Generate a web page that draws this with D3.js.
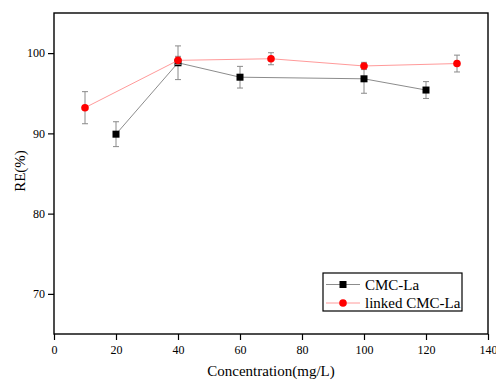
<!DOCTYPE html>
<html>
<head>
<meta charset="utf-8">
<title>RE vs Concentration</title>
<style>
  body { margin: 0; background: #fff; }
  svg { display: block; font-family: 'Liberation Serif', 'Times New Roman', serif; }
  .tick text { font-family: 'Liberation Serif', 'Times New Roman', serif; font-size: 12px; }
</style>
</head>
<body>
<div id="chart"></div>
<script src="https://d3js.org/d3.v7.min.js"></script>
<script>

// data
var cmcX   = [20, 40, 60, 100, 120];
var cmcY   = [89.9, 98.8, 97.0, 96.8, 95.4];
var cmcErr = [1.55, 2.1, 1.35, 1.8, 1.05];

var linkX   = [10, 40, 70, 100, 130];
var linkY   = [93.2, 99.1, 99.3, 98.4, 98.7];
var linkErr = [2.0, 0.5, 0.75, 0.45, 1.05];

var xTicks = [0, 20, 40, 60, 80, 100, 120, 140];
var yTicks = [70, 80, 90, 100];
var seriesNames = ["CMC-La", "linked CMC-La"];

var W = 496, H = 381;
var margin = {top: 13, right: 8, bottom: 47, left: 54},
    width  = W - margin.left - margin.right,
    height = H - margin.top - margin.bottom;

var svg = d3.select("#chart").append("svg")
    .attr("width", W)
    .attr("height", H);

var g = svg.append("g")
    .attr("transform", "translate(" + margin.left + "," + margin.top + ")");

var x = d3.scaleLinear().domain([0, 140]).range([0, width]);
var y = d3.scaleLinear().domain([65, 105]).range([height, 0]);

// axes (major + minor)
var xAxis = g.append("g").attr("transform", "translate(0," + height + ")");
xAxis.call(d3.axisBottom(x).tickValues(d3.range(10, 140, 20)).tickSize(3).tickFormat(""));
xAxis.call(d3.axisBottom(x).tickValues(xTicks).tickSize(6).tickPadding(5));

var yAxis = g.append("g");
yAxis.call(d3.axisLeft(y).tickValues([75, 85, 95]).tickSize(3).tickFormat(""));
yAxis.call(d3.axisLeft(y).tickValues(yTicks).tickSize(6).tickPadding(3));

[xAxis, yAxis].forEach(function(a){
    a.attr("font-family", "Liberation Serif").attr("font-size", 12);
});
g.selectAll(".domain").remove();
g.selectAll(".tick line").attr("stroke", "#000").attr("stroke-width", 1.2);
g.selectAll(".tick text").attr("fill", "#000");

// frame
g.append("rect")
    .attr("x", 0).attr("y", 0)
    .attr("width", width).attr("height", height)
    .attr("fill", "none")
    .attr("stroke", "#000")
    .attr("stroke-width", 1.4);

// axis titles
svg.append("text")
    .attr("x", margin.left + width / 2)
    .attr("y", 376)
    .attr("text-anchor", "middle")
    .style("font-size", "15px")
    .text("Concentration(mg/L)");

svg.append("text")
    .attr("transform", "translate(25,171) rotate(-90)")
    .attr("text-anchor", "middle")
    .style("font-size", "15px")
    .text("RE(%)");

function drawSeries(xs, ys, errs, lineColor, markColor, shape) {
    var pts = xs.map(function(d, i){ return {x: d, y: ys[i], e: errs[i]}; });

    g.append("path")
        .datum(pts)
        .attr("fill", "none")
        .attr("stroke", lineColor)
        .attr("stroke-width", 1)
        .attr("d", d3.line().x(function(d){ return x(d.x); }).y(function(d){ return y(d.y); }));

    var eb = g.append("g").attr("stroke", "#8a8a8a").attr("stroke-width", 1);
    pts.forEach(function(d){
        var cx = x(d.x);
        eb.append("line").attr("x1", cx).attr("x2", cx).attr("y1", y(d.y + d.e)).attr("y2", y(d.y - d.e));
        eb.append("line").attr("x1", cx - 3).attr("x2", cx + 3).attr("y1", y(d.y + d.e)).attr("y2", y(d.y + d.e));
        eb.append("line").attr("x1", cx - 3).attr("x2", cx + 3).attr("y1", y(d.y - d.e)).attr("y2", y(d.y - d.e));
    });

    if (shape == "square") {
        g.selectAll(null).data(pts).enter().append("rect")
            .attr("x", function(d){ return x(d.x) - 3.5; })
            .attr("y", function(d){ return y(d.y) - 3.5; })
            .attr("width", 7).attr("height", 7)
            .attr("fill", markColor);
    } else {
        g.selectAll(null).data(pts).enter().append("circle")
            .attr("cx", function(d){ return x(d.x); })
            .attr("cy", function(d){ return y(d.y); })
            .attr("r", 3.8)
            .attr("fill", markColor);
    }
}

drawSeries(cmcX, cmcY, cmcErr, "#8c8c8c", "#000", "square");
drawSeries(linkX, linkY, linkErr, "#ff9a9a", "#ff0000", "circle");

// legend
var lg = svg.append("g").attr("transform", "translate(323,273)");
lg.append("rect")
    .attr("width", 139).attr("height", 38)
    .attr("fill", "#fff")
    .attr("stroke", "#000")
    .attr("stroke-width", 1.2);

var legendColors = [["#8c8c8c", "#000"], ["#ff9a9a", "#ff0000"]];
seriesNames.forEach(function(name, i){
    var ly = 11.5 + i * 18.5;
    lg.append("line")
        .attr("x1", 3).attr("x2", 37).attr("y1", ly).attr("y2", ly)
        .attr("stroke", legendColors[i][0]).attr("stroke-width", 1);
    if (i == 0) {
        lg.append("rect").attr("x", 16.5).attr("y", ly - 3.5).attr("width", 7).attr("height", 7).attr("fill", legendColors[i][1]);
    } else {
        lg.append("circle").attr("cx", 20).attr("cy", ly).attr("r", 3.8).attr("fill", legendColors[i][1]);
    }
    lg.append("text")
        .attr("x", 42).attr("y", ly + 5)
        .style("font-size", "15px")
        .text(name);
});
</script>
</body>
</html>
